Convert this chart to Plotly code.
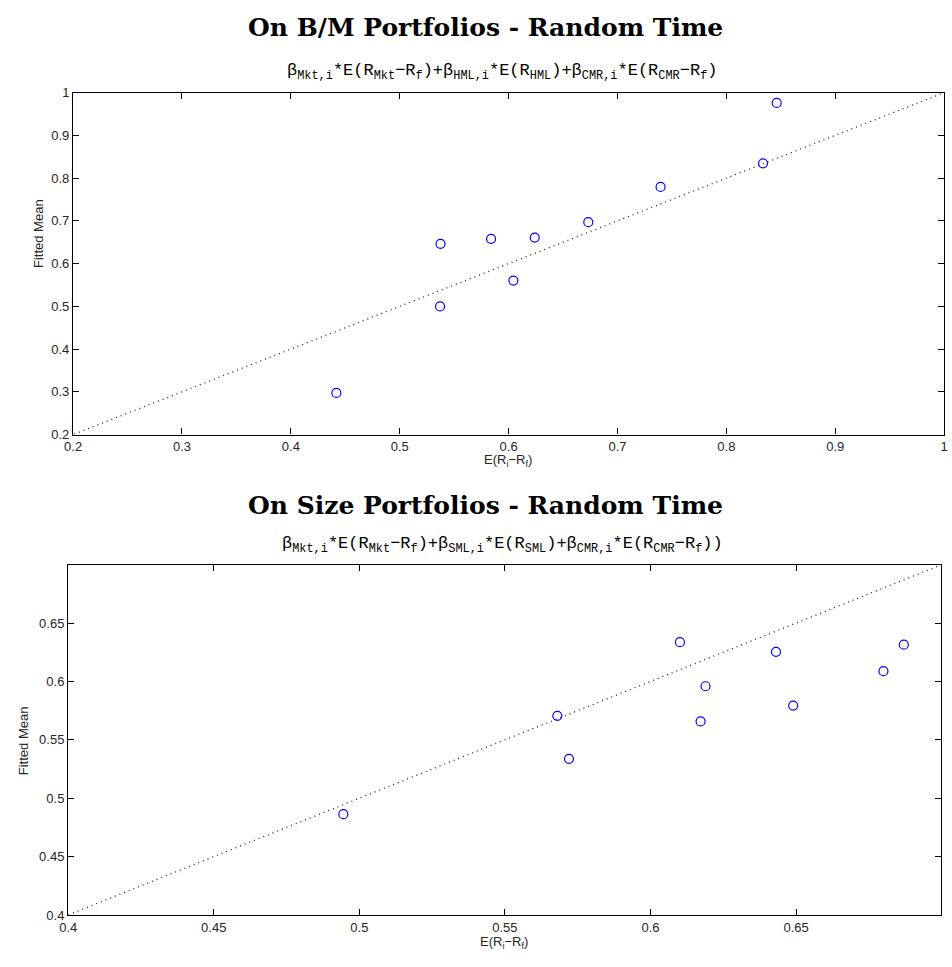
import plotly.graph_objects as go

# B/M portfolios: realised mean excess return vs model-fitted mean
bm_actual = [0.4418, 0.5371, 0.5375, 0.5839, 0.6044, 0.6240, 0.6732, 0.7396, 0.8337, 0.8463]
bm_fitted = [0.2975, 0.4997, 0.6463, 0.6580, 0.5603, 0.6610, 0.6970, 0.7794, 0.8347, 0.9760]

# Size portfolios
size_actual = [0.4945, 0.5680, 0.5720, 0.6101, 0.6172, 0.6189, 0.6431, 0.6490, 0.6800, 0.6870]
size_fitted = [0.4863, 0.5706, 0.5337, 0.6336, 0.5658, 0.5959, 0.6254, 0.5793, 0.6088, 0.6315]

# 45-degree reference line
diag = [0.0, 1.0]

bm_ticks = [0.2, 0.3, 0.4, 0.5, 0.6, 0.7, 0.8, 0.9, 1.0]
bm_ticktext = ["0.2", "0.3", "0.4", "0.5", "0.6", "0.7", "0.8", "0.9", "1"]
size_ticks = [0.4, 0.45, 0.5, 0.55, 0.6, 0.65]
size_ticktext = ["0.4", "0.45", "0.5", "0.55", "0.6", "0.65"]

W, H = 952, 967

def px_x(p):
    return p / W

def px_y(p):
    return 1 - p / H

fig = go.Figure()

marker = dict(symbol="circle-open", size=9, color="#0000ff", line=dict(width=1.2, color="#0000ff"))
dotline = dict(color="#222222", width=1.3, dash="1px,4px")

fig.add_trace(go.Scatter(x=diag, y=diag, mode="lines", line=dotline, xaxis="x", yaxis="y", hoverinfo="skip"))
fig.add_trace(go.Scatter(x=bm_actual, y=bm_fitted, mode="markers", marker=marker, xaxis="x", yaxis="y"))
fig.add_trace(go.Scatter(x=diag, y=diag, mode="lines", line=dotline, xaxis="x2", yaxis="y2", hoverinfo="skip"))
fig.add_trace(go.Scatter(x=size_actual, y=size_fitted, mode="markers", marker=marker, xaxis="x2", yaxis="y2"))

tickfont = dict(family="Liberation Sans, Arial, sans-serif", size=13, color="#262626")
common = dict(showgrid=False, zeroline=False, showline=True, linecolor="black", linewidth=1.3,
              mirror="ticks", ticks="inside", ticklen=6, tickcolor="black", tickwidth=1,
              tickfont=tickfont)

fig.update_layout(
    width=W, height=H,
    margin=dict(l=0, r=0, t=0, b=0),
    paper_bgcolor="white", plot_bgcolor="white",
    showlegend=False,
    xaxis=dict(domain=[px_x(65), px_x(948)], range=[0.2, 1.0], tickvals=bm_ticks, ticktext=bm_ticktext,
               anchor="y", **common),
    yaxis=dict(domain=[px_y(434.3), px_y(87)], range=[0.2, 1.0], tickvals=bm_ticks, ticktext=bm_ticktext,
               anchor="x", **common),
    xaxis2=dict(domain=[px_x(60), px_x(945)], range=[0.4, 0.6998], tickvals=size_ticks, ticktext=size_ticktext,
                anchor="y2", **common),
    yaxis2=dict(domain=[px_y(922.3), px_y(566.7)], range=[0.4, 0.6998], tickvals=size_ticks, ticktext=size_ticktext,
                anchor="x2", **common),
)

title_font = dict(family="DejaVu Serif, serif", size=25, color="black")
sub_font = dict(family="Liberation Mono, Courier New, monospace", size=17, color="black")
label_font = dict(family="Liberation Sans, Arial, sans-serif", size=13, color="#262626")

beta = "\u03b2"
sub1 = (f"{beta}<sub>Mkt,i</sub>*E(R<sub>Mkt</sub>\u2212R<sub>f</sub>)+"
        f"{beta}<sub>HML,i</sub>*E(R<sub>HML</sub>)+"
        f"{beta}<sub>CMR,i</sub>*E(R<sub>CMR</sub>\u2212R<sub>f</sub>)")
sub2 = (f"{beta}<sub>Mkt,i</sub>*E(R<sub>Mkt</sub>\u2212R<sub>f</sub>)+"
        f"{beta}<sub>SML,i</sub>*E(R<sub>SML</sub>)+"
        f"{beta}<sub>CMR,i</sub>*E(R<sub>CMR</sub>\u2212R<sub>f</sub>))")
xlab = "E(R<sub>i</sub>\u2212R<sub>f</sub>)"

annos = [
    dict(text="<b>On B/M Portfolios - Random Time</b>", x=px_x(483), y=px_y(21), font=title_font),
    dict(text=sub1, x=px_x(500), y=px_y(66), font=sub_font),
    dict(text=xlab, x=px_x(506), y=px_y(461), font=label_font),
    dict(text="Fitted Mean", x=px_x(30), y=px_y(230), font=label_font, textangle=-90),
    dict(text="<b>On Size Portfolios - Random Time</b>", x=px_x(483), y=px_y(506), font=title_font),
    dict(text=sub2, x=px_x(500), y=px_y(546), font=sub_font),
    dict(text=xlab, x=px_x(502), y=px_y(950), font=label_font),
    dict(text="Fitted Mean", x=px_x(15), y=px_y(745), font=label_font, textangle=-90),
]
for a in annos:
    fig.add_annotation(xref="paper", yref="paper", showarrow=False, xanchor="center", yanchor="middle", **a)

fig.write_html("out.html")
